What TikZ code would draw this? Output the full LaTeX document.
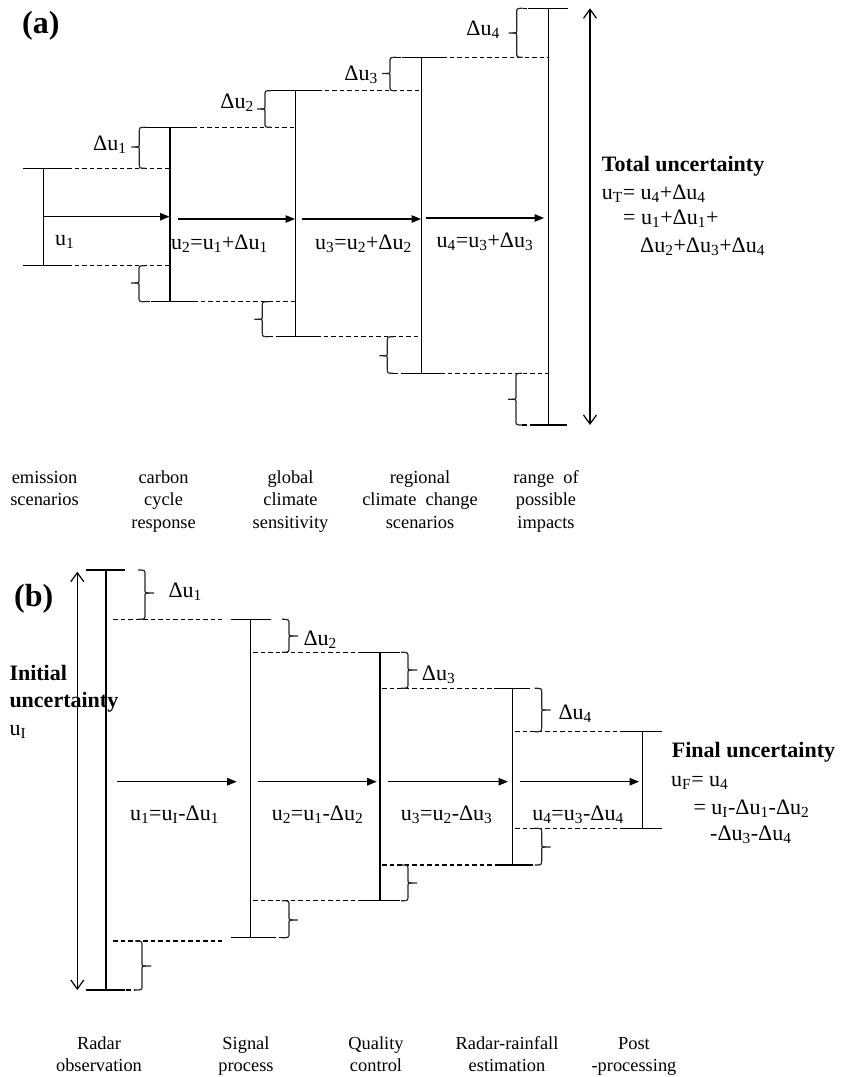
\documentclass[tikz,border=0pt]{standalone}
\usepackage{fontspec}
\setmainfont{Liberation Serif}
\usetikzlibrary{arrows.meta}
\newcommand\su[1]{\textsubscript{#1}}
% brace with tip to the left: x, top y, bottom y, tip y
\newcommand\braceL[4]{%
  \draw[brc] ({#1+6},#2) .. controls (#1,#2) .. (#1,{#2+5}) -- (#1,{#4-4}) .. controls (#1,#4) .. ({#1-4},#4) -- ({#1-8},#4);
  \draw[brc] ({#1-4},#4) .. controls (#1,#4) .. (#1,{#4+4}) -- (#1,{#3-5}) .. controls (#1,#3) .. ({#1+6},#3);}
% brace with tip to the right
\newcommand\braceR[4]{%
  \draw[brc] ({#1-7},#2) .. controls (#1,#2) .. (#1,{#2+5}) -- (#1,{#4-4}) .. controls (#1,#4) .. ({#1+4},#4) -- ({#1+9},#4);
  \draw[brc] ({#1+4},#4) .. controls (#1,#4) .. (#1,{#4+4}) -- (#1,{#3-5}) .. controls (#1,#3) .. ({#1-7},#3);}
\tikzset{
  ln/.style={line width=1.2pt, black},
  dsh/.style={line width=1.2pt, black, dash pattern=on 4.5pt off 3pt},
  brc/.style={line width=1.2pt, black!85},
  arr/.style={line width=1.2pt, -{Triangle[length=9.5pt,width=7.5pt]}},
  dbl/.style={line width=1.2pt, {Straight Barb[length=9pt,width=13pt]}-{Straight Barb[length=9pt,width=13pt]}},
  lab/.style={inner sep=0pt, font=\fontsize{22}{27}\selectfont},
  blab/.style={inner sep=0pt, font=\bfseries\fontsize{22}{27}\selectfont},
  stage/.style={inner sep=0pt, align=center, font=\fontsize{18.4}{22.5}\selectfont},
  panel/.style={inner sep=0pt, font=\bfseries\fontsize{32}{38}\selectfont},
}
\begin{document}
\begin{tikzpicture}[x=1pt,y=-1pt]
\fill[white] (0,0) rectangle (842,1077);
\useasboundingbox (0,0) rectangle (842,1077);

% ================= panel (a) =================
\node[panel, anchor=base west] (pa) at (22,33) {(a)};
% verticals
\draw[ln] (43.3,168.3) -- (43.3,265.7);
\draw[ln] (170,127.3) -- (170,301.7);
\draw[ln] (295.6,90.7) -- (295.6,336.7);
\draw[ln] (421.8,57.3) -- (421.8,373.3);
\draw[ln] (548.3,8.3) -- (548.3,425);
% caps
\draw[ln] (23,168.3) -- (67,168.3);  \draw[ln] (23,265.7) -- (67,265.7);
\draw[ln] (150,127.3) -- (192,127.3); \draw[ln] (151,301.7) -- (193,301.7);
\draw[ln] (276,90.7) -- (317,90.7);  \draw[ln] (276.7,336.7) -- (316,336.7);
\draw[ln] (401.7,57.3) -- (442,57.3); \draw[ln] (403,373.3) -- (440,373.3);
\draw[ln] (528,8.3) -- (568,8.3);    \draw[ln] (529.5,425) -- (567,425);
% dashed continuations
\draw[dsh] (67,168.3) -- (170,168.3);
\draw[dsh] (192,127.3) -- (295.6,127.3);
\draw[dsh] (317,90.7) -- (421.8,90.7);
\draw[dsh] (442,57.3) -- (548.3,57.3);
\draw[dsh] (67,265.7) -- (170,265.7);
\draw[dsh] (193,301.7) -- (295.6,301.7);
\draw[dsh] (316,336.7) -- (421.8,336.7);
\draw[dsh] (440,373.3) -- (548.3,373.3);
\draw[dsh] (145.3,127.3) -- (150,127.3);
\draw[dsh] (271,90.7) -- (276,90.7);
\draw[dsh] (396,57.3) -- (401.7,57.3);
\draw[dsh] (522.7,8.3) -- (528,8.3);
\draw[dsh] (145,301.7) -- (151,301.7);
\draw[dsh] (268.3,336.7) -- (276.7,336.7);
\draw[dsh] (393.3,373.3) -- (403,373.3);
\draw[dsh] (522,425) -- (529.5,425);
% braces
\braceL{139.3}{127.3}{168.3}{147}
\braceL{265}{90.7}{127.3}{109}
\braceL{390}{57.3}{90.7}{73.5}
\braceL{516.7}{8.3}{57.3}{33}
\braceL{139}{265.7}{301.7}{283}
\braceL{262.3}{301.7}{336.7}{319.3}
\braceL{387.3}{336.7}{373.3}{355.7}
\braceL{516}{373.3}{425}{399.3}
% arrows
\draw[arr] (43.3,216.7) -- (169.5,216.7);
\draw[arr] (178.3,219) -- (295,219);
\draw[arr] (301.7,219) -- (421,219);
\draw[arr] (426,218) -- (544,218);
\draw[dbl] (590,8.3) -- (590,425);
% labels
\node[lab, anchor=base west] (lu1) at (55,245) {u\su1};
\node[lab, anchor=base] (la2) at (219.5,249) {u\su2=u\su1+Δu\su1};
\node[lab, anchor=base] (la3) at (363.5,249) {u\su3=u\su2+Δu\su2};
\node[lab, anchor=base] (la4) at (485,247) {u\su4=u\su3+Δu\su3};
\node[lab, anchor=base east] (da1) at (126.7,150) {Δu\su1};
\node[lab, anchor=base east] (da2) at (254,108.3) {Δu\su2};
\node[lab, anchor=base east] (da3) at (378,80) {Δu\su3};
\node[lab, anchor=base east] (da4) at (500,35) {Δu\su4};
\node[blab, anchor=base west] (tot1) at (601.7,171) {Total uncertainty};
\node[lab, anchor=base west] (tot2) at (601.7,199) {u\su{T}= u\su4+Δu\su4};
\node[lab, anchor=base west] (tot3) at (623,224.5) {= u\su1+Δu\su1+};
\node[lab, anchor=base west] (tot4) at (640,252) {Δu\su2+Δu\su3+Δu\su4};
% stage names (anchor = baseline of the last line)
\node[stage, anchor=base] (sa1) at (44.5,505.8) {emission\\scenarios};
\node[stage, anchor=base] (sa2) at (163.6,528.3) {carbon\\cycle\\response};
\node[stage, anchor=base] (sa3) at (290.5,528.3) {global\\climate\\sensitivity};
\node[stage, anchor=base] (sa4) at (420,528.3) {regional\\climate\ \ change\\scenarios};
\node[stage, anchor=base] (sa5) at (546,528.3) {range\ \ of\\possible\\impacts};

% ================= panel (b) =================
\node[panel, anchor=base west] (pb) at (14,606) {(b)};
% verticals
\draw[ln] (106,570) -- (106,990);
\draw[ln] (250.7,619.3) -- (250.7,937.7);
\draw[ln] (380,652.3) -- (380,900.7);
\draw[ln] (512.7,688.3) -- (512.7,865);
\draw[ln] (642.3,731.7) -- (642.3,828.3);
% caps
\draw[ln] (86,570) -- (125,570);    \draw[ln] (86,990) -- (125,990);
\draw[ln] (231,619.3) -- (271,619.3); \draw[ln] (231,937.7) -- (271,937.7);
\draw[ln] (361.7,652.3) -- (400,652.3); \draw[ln] (358,900.7) -- (400,900.7);
\draw[ln] (494,688.3) -- (530,688.3); \draw[ln] (495,865) -- (533,865);
\draw[ln] (622,731.7) -- (662,731.7); \draw[ln] (622,828.3) -- (662,828.3);
% dashed
\draw[dsh] (113,619.3) -- (222,619.3);
\draw[dsh] (253,652.3) -- (361.7,652.3);
\draw[dsh] (382,688.3) -- (494,688.3);
\draw[dsh] (515,731.7) -- (622,731.7);
\draw[dsh] (515,828.3) -- (622,828.3);
\draw[dsh] (382,865) -- (495,865);
\draw[dsh] (253,900.7) -- (358,900.7);
\draw[dsh] (113,941) -- (222,941);
\draw[dsh] (126,990) -- (135,990);
\draw[dsh] (271,937.7) -- (282,937.7);
% braces
\braceR{145}{570}{619.3}{593}
\braceR{289}{619.3}{652.3}{636}
\braceR{408}{652.3}{688.3}{670}
\braceR{541.7}{688.3}{731.7}{710}
\braceR{541.7}{828.3}{865}{847}
\braceR{408}{865}{900.7}{883}
\braceR{289}{900.7}{937.7}{920}
\braceR{142}{941}{990}{966}
% arrows
\draw[arr] (117,781.7) -- (236.7,781.7);
\draw[arr] (258,781.7) -- (376.7,781.7);
\draw[arr] (388,781.7) -- (508,781.7);
\draw[arr] (520,781.7) -- (639,781.7);
\draw[dbl] (77.3,571.7) -- (77.3,990);
% labels
\node[lab, anchor=base] (lb1) at (174.5,820) {u\su1=u\su{I}-Δu\su1};
\node[lab, anchor=base] (lb2) at (317.5,820) {u\su2=u\su1-Δu\su2};
\node[lab, anchor=base] (lb3) at (446.7,820) {u\su3=u\su2-Δu\su3};
\node[lab, anchor=base] (lb4) at (578,820) {u\su4=u\su3-Δu\su4};
\node[lab, anchor=base west] (db1) at (168.3,597.3) {Δu\su1};
\node[lab, anchor=base west] (db2) at (303.3,645) {Δu\su2};
\node[lab, anchor=base west] (db3) at (421.7,680) {Δu\su3};
\node[lab, anchor=base west] (db4) at (558.3,719.3) {Δu\su4};
\node[blab, anchor=base west] (ini1) at (9.3,680) {Initial};
\node[blab, anchor=base west] (ini2) at (9.3,707) {uncertainty};
\node[lab, anchor=base west] (ini3) at (9.3,735) {u\su{I}};
\node[blab, anchor=base west] (fin1) at (671.7,757.3) {Final uncertainty};
\node[lab, anchor=base west] (fin2) at (671,786) {u\su{F}= u\su4};
\node[lab, anchor=base west] (fin3) at (693.3,814) {= u\su{I}-Δu\su1-Δu\su2};
\node[lab, anchor=base west] (fin4) at (710,840.7) {-Δu\su3-Δu\su4};
% stage names (anchor = baseline of the last line)
\node[stage, anchor=base] (sb1) at (99,1071.7) {Radar\\observation};
\node[stage, anchor=base] (sb2) at (246,1071.7) {Signal\\process};
\node[stage, anchor=base] (sb3) at (376,1071.7) {Quality\\control};
\node[stage, anchor=base] (sb4) at (507,1071.7) {Radar-rainfall\\estimation};
\node[stage, anchor=base] (sb5) at (634,1071.7) {Post\\-processing};
\end{tikzpicture}
\end{document}
